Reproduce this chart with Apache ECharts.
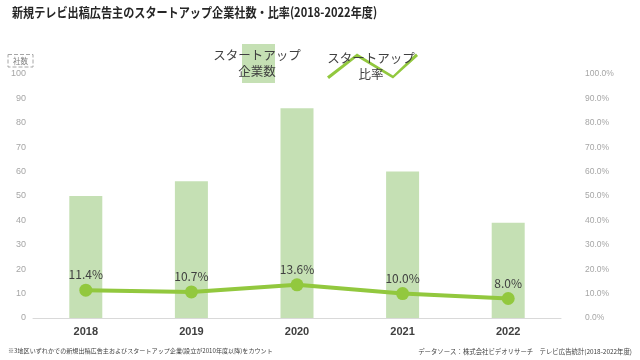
<!DOCTYPE html>
<html><head><meta charset="utf-8">
<script src="https://cdn.jsdelivr.net/npm/echarts@6/dist/echarts.min.js"></script>
<style>html,body{margin:0;padding:0;background:#fff}#c{width:640px;height:360px}</style>
</head><body><div id="c"></div>
<script>
const categories = ['2018','2019','2020','2021','2022'];
const companyCounts = [50, 56, 86, 60, 39];
const startupRatio = [11.4, 10.7, 13.6, 10.0, 8.0];
const leftTicks = {min: 0, max: 100, interval: 10};
const rightTicks = {min: 0, max: 100, interval: 10};

const FONT = '"Noto Sans CJK JP", "Noto Sans", sans-serif';
const chart = echarts.init(document.getElementById('c'));
chart.setOption({
  animation: false,
  textStyle: {fontFamily: FONT},
  legend: [{
    data: ['スタートアップ企業数'],
    left: 213, top: 44, padding: 0,
    itemWidth: 33, itemHeight: 39,
    icon: 'rect',
    formatter: () => '{a|スタートアップ}\n{a|企業数}',
    textStyle: {
      padding: [0, 0, 0, -67],
      rich: {a: {width: 88, align: 'center', fontSize: 12.5, color: '#404040', lineHeight: 16, fontFamily: FONT}}
    }
  }, {
    data: ['スタートアップ比率'],
    left: 327, top: 52, padding: 0,
    itemWidth: 91, itemHeight: 26,
    icon: 'path://M0,23 L30,0 L66,22 L89,0 L91,2.5 L66,25 L30,3.5 L2,25.5 Z',
    formatter: () => '{a|スタートアップ}\n{a|比率}',
    textStyle: {
      padding: [0, 0, 0, -96],
      rich: {a: {width: 88, align: 'center', fontSize: 12.5, color: '#404040', lineHeight: 16, fontFamily: FONT}}
    }
  }],
  grid: {left: 33, right: 79, top: 74, bottom: 42},
  xAxis: {
    type: 'category',
    data: categories,
    axisLine: {lineStyle: {color: '#d9d9d9', width: 1}},
    axisTick: {show: false},
    axisLabel: {color: '#404040', fontSize: 11, fontWeight: 'bold', margin: 8, fontFamily: 'Liberation Sans, Arial, sans-serif'}
  },
  yAxis: [{
    type: 'value',
    min: leftTicks.min, max: leftTicks.max, interval: leftTicks.interval,
    name: '社数',
    nameLocation: 'end',
    nameGap: 7,
    nameTextStyle: {
      fontSize: 7.5, color: '#808080', align: 'right',
      borderType: 'dashed', borderColor: '#a6a6a6', borderWidth: 1,
      padding: [3, 5, 2, 5]
    },
    splitLine: {show: false},
    axisLine: {show: false},
    axisTick: {show: false},
    axisLabel: {color: '#a6a6a6', fontSize: 9, margin: 7, fontFamily: 'Liberation Sans, Arial, sans-serif'}
  }, {
    type: 'value',
    min: rightTicks.min, max: rightTicks.max, interval: rightTicks.interval,
    position: 'right',
    splitLine: {show: false},
    axisLine: {show: false},
    axisTick: {show: false},
    axisLabel: {color: '#a6a6a6', fontSize: 8.5, margin: 24, formatter: v => v.toFixed(1) + '%', fontFamily: 'Liberation Sans, Arial, sans-serif'}
  }],
  series: [{
    name: 'スタートアップ企業数',
    type: 'bar',
    data: companyCounts,
    barWidth: 33,
    itemStyle: {color: '#c5e0b4'}
  }, {
    name: 'スタートアップ比率',
    type: 'line',
    yAxisIndex: 1,
    data: startupRatio,
    symbol: 'circle',
    symbolSize: 13,
    lineStyle: {color: '#92c83e', width: 4},
    itemStyle: {color: '#92c83e'},
    label: {
      show: true, position: 'top', distance: 3,
      formatter: p => p.value.toFixed(1) + '%',
      color: '#404040', fontSize: 12, fontFamily: FONT
    }
  }],
  graphic: [{
    type: 'text', left: 12, top: 6, scaleX: 0.855,
    style: {text: '新規テレビ出稿広告主のスタートアップ企業社数・比率(2018-2022年度)', fontSize: 13, fontWeight: 'bold', fill: '#262626', fontFamily: FONT}
  }, {
    type: 'text', left: 8, top: 348,
    style: {text: '※3地区いずれかでの新規出稿広告主およびスタートアップ企業(設立が2010年度以降)をカウント', fontSize: 6.1, fill: '#404040', fontFamily: FONT}
  }, {
    type: 'text', right: 8, top: 348,
    style: {text: 'データソース：株式会社ビデオリサーチ　テレビ広告統計(2018-2022年度)', fontSize: 6.4, fill: '#404040', fontFamily: FONT}
  }]
});
</script></body></html>
